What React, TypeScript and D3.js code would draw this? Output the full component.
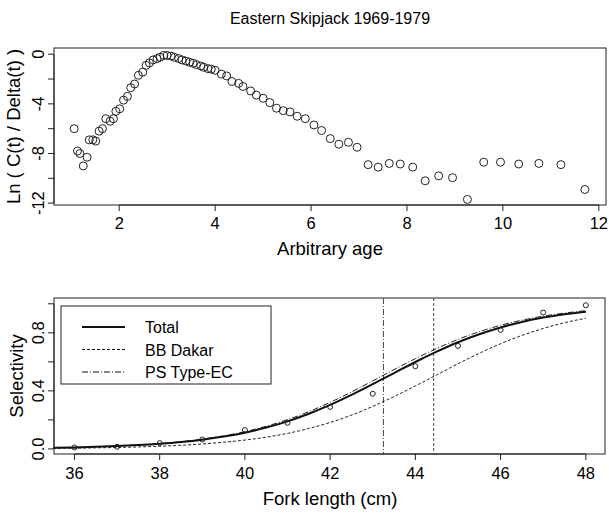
import React from "react";
import * as d3 from "d3";

const ageX = [1.06,1.13,1.18,1.25,1.33,1.375,1.45,1.51,1.58,1.65,1.72,1.81,1.88,1.93,2.01,2.09,2.17,2.24,2.32,2.4,2.49,2.56,2.63,2.71,2.79,2.85,2.93,3.0,3.08,3.15,3.24,3.31,3.39,3.47,3.54,3.61,3.7,3.76,3.85,3.92,4.0,4.13,4.24,4.35,4.49,4.58,4.74,4.86,5.0,5.14,5.28,5.42,5.56,5.71,5.88,6.06,6.22,6.4,6.58,6.78,6.96,7.19,7.4,7.63,7.86,8.12,8.38,8.66,8.95,9.26,9.6,9.95,10.33,10.75,11.21,11.71];
const lnY = [-6.0,-7.8,-8.0,-9.0,-8.3,-6.9,-6.9,-7.0,-6.2,-6.0,-5.2,-5.4,-5.2,-4.6,-4.4,-3.7,-3.4,-2.7,-2.4,-1.7,-1.45,-0.9,-0.7,-0.46,-0.35,-0.25,-0.1,-0.1,-0.15,-0.25,-0.35,-0.46,-0.55,-0.65,-0.73,-0.84,-0.95,-1.05,-1.16,-1.2,-1.3,-1.6,-1.75,-2.2,-2.35,-2.6,-2.96,-3.3,-3.55,-3.9,-4.35,-4.55,-4.65,-5.0,-5.2,-5.7,-6.15,-6.8,-7.25,-7.1,-7.5,-8.9,-9.1,-8.8,-8.85,-9.1,-10.2,-9.8,-9.95,-11.7,-8.7,-8.7,-8.85,-8.8,-8.9,-10.9];

const curveL = [35.5,36,36.5,37,37.5,38,38.5,39,39.5,40,40.5,41,41.5,42,42.5,43,43.5,44,44.5,45,45.5,46,46.5,47,47.5,48];
const totalSel = [0.0078,0.0106,0.0144,0.0195,0.0263,0.0356,0.048,0.064,0.085,0.112,0.147,0.19,0.242,0.303,0.372,0.446,0.523,0.599,0.67,0.735,0.79,0.837,0.875,0.905,0.928,0.946];
const psSel = [0.008,0.011,0.015,0.02,0.028,0.037,0.05,0.068,0.09,0.119,0.156,0.202,0.257,0.321,0.392,0.469,0.547,0.622,0.692,0.755,0.808,0.852,0.887,0.915,0.936,0.953];
const bbSel = [0.004,0.0055,0.0074,0.01,0.0137,0.0185,0.025,0.034,0.046,0.061,0.081,0.107,0.141,0.182,0.233,0.293,0.361,0.434,0.51,0.587,0.659,0.725,0.782,0.83,0.87,0.9];
const obsL = [36,37,38,39,40,41,42,43,44,45,46,47,48];
const obsSel = [0.01,0.015,0.04,0.065,0.13,0.18,0.29,0.38,0.57,0.71,0.82,0.94,0.99];
const vLines = [43.25, 44.43];

const topXTicks = [2,4,6,8,10,12];
const topYTicks = [0,-2,-4,-6,-8,-10,-12];
const topYLabels = [0,-4,-8,-12];
const botXTicks = [36,38,40,42,44,46,48];
const botYTicks = [0,0.2,0.4,0.6,0.8,1.0];
const botYLabels = [0,0.4,0.8];

const legendItems = [
  { name: "Total", dash: "none", w: 2 },
  { name: "BB Dakar", dash: "3,2", w: 1 },
  { name: "PS Type-EC", dash: "6,2,1,2", w: 1 },
];

const font = "Liberation Sans, Arial, sans-serif";

export default function App() {
  const L = 54, R = 606;
  const x1 = d3.scaleLinear().domain([0.64, 12.15]).range([L, R]);
  const y1 = d3.scaleLinear().domain([0.5, -12.15]).range([48, 205]);
  const x2 = d3.scaleLinear().domain([35.52, 48.45]).range([L, 605]);
  const y2 = d3.scaleLinear().domain([1.04, -0.035]).range([298, 454]);
  const line = (ys: number[]) =>
    d3.line<number>().x((_, i) => x2(curveL[i])).y((d) => y2(d)).curve(d3.curveMonotoneX)(ys) || "";

  return (
    <svg width={609} height={514} style={{ position: "absolute", left: 0, top: 0, fontFamily: font }}>
      <rect width={609} height={514} fill="white" />
      <text x={330} y={24} textAnchor="middle" fontSize={16}>Eastern Skipjack 1969-1979</text>
      {/* top panel */}
      <rect x={L} y={48} width={R - L} height={157} fill="none" stroke="#222" />
      {ageX.map((a, i) => (
        <circle key={i} cx={x1(a)} cy={y1(lnY[i])} r={4} fill="none" stroke="#222" strokeWidth={1} />
      ))}
      <line x1={x1(2)} x2={x1(12)} y1={205} y2={205} stroke="#222" />
      {topXTicks.map((t) => (
        <g key={t}>
          <line x1={x1(t)} x2={x1(t)} y1={205} y2={211} stroke="#222" />
          <text x={x1(t)} y={229} textAnchor="middle" fontSize={16.5}>{t}</text>
        </g>
      ))}
      <text x={330} y={255} textAnchor="middle" fontSize={18.5}>Arbitrary age</text>
      <line x1={L} x2={L} y1={y1(0)} y2={y1(-12)} stroke="#222" />
      {topYTicks.map((t) => (
        <line key={t} x1={L - 6} x2={L} y1={y1(t)} y2={y1(t)} stroke="#222" />
      ))}
      {topYLabels.map((t) => (
        <text key={t} transform={`translate(44,${y1(t)}) rotate(-90)`} textAnchor="middle" fontSize={16.5}>{t}</text>
      ))}
      <text transform={`translate(20,${(48 + 205) / 2}) rotate(-90)`} textAnchor="middle" fontSize={18.5}>Ln ( C(t) / Delta(t) )</text>

      {/* bottom panel */}
      <rect x={L} y={298} width={605 - L} height={156} fill="none" stroke="#222" />
      {vLines.map((v, i) => (
        <line key={i} x1={x2(v)} x2={x2(v)} y1={298} y2={454} stroke="#444" strokeDasharray={i === 0 ? "6,2,1,2" : "3,2"} />
      ))}
      <path d={line(bbSel)} fill="none" stroke="#222" strokeWidth={1} strokeDasharray="3,2" />
      <path d={line(psSel)} fill="none" stroke="#222" strokeWidth={1} strokeDasharray="6,2,1,2" />
      <path d={line(totalSel)} fill="none" stroke="#111" strokeWidth={2} />
      {obsL.map((l, i) => (
        <circle key={l} cx={x2(l)} cy={y2(obsSel[i])} r={2.5} fill="none" stroke="#222" />
      ))}
      <rect x={61} y={306} width={210} height={78} fill="white" stroke="#222" />
      {legendItems.map((it, i) => (
        <g key={it.name}>
          <line x1={82} x2={125} y1={327 + i * 22.5} y2={327 + i * 22.5} stroke="#111" strokeWidth={it.w} strokeDasharray={it.dash} />
          <text x={145} y={333 + i * 22.5} fontSize={16}>{it.name}</text>
        </g>
      ))}
      <line x1={x2(36)} x2={x2(48)} y1={454} y2={454} stroke="#222" />
      {botXTicks.map((t) => (
        <g key={t}>
          <line x1={x2(t)} x2={x2(t)} y1={454} y2={460} stroke="#222" />
          <text x={x2(t)} y={479} textAnchor="middle" fontSize={16.5}>{t}</text>
        </g>
      ))}
      <text x={330} y={505} textAnchor="middle" fontSize={18.5}>Fork length (cm)</text>
      <line x1={L} x2={L} y1={y2(0)} y2={y2(1)} stroke="#222" />
      {botYTicks.map((t) => (
        <line key={t} x1={L - 6} x2={L} y1={y2(t)} y2={y2(t)} stroke="#222" />
      ))}
      {botYLabels.map((t) => (
        <text key={t} transform={`translate(44,${y2(t)}) rotate(-90)`} textAnchor="middle" fontSize={16.5}>{t.toFixed(1)}</text>
      ))}
      <text transform={`translate(23,${(298 + 454) / 2}) rotate(-90)`} textAnchor="middle" fontSize={18.5}>Selectivity</text>
    </svg>
  );
}
